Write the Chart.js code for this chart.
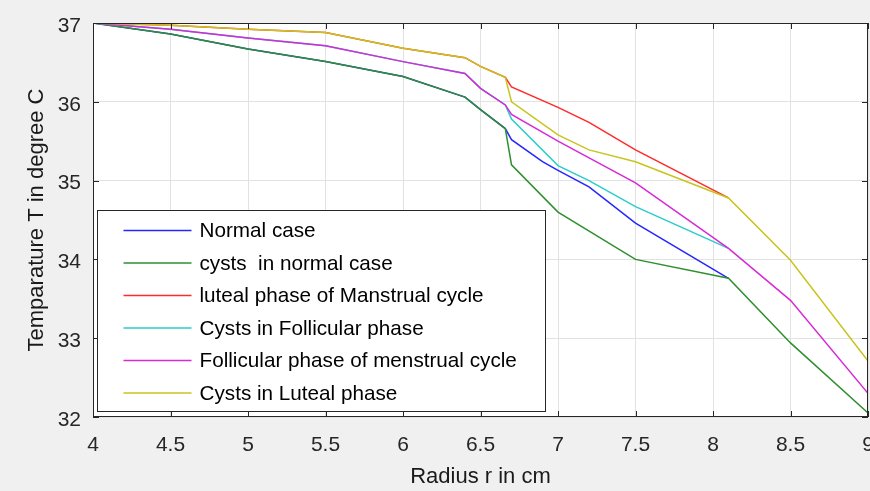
<!DOCTYPE html>
<html>
<head>
<meta charset="utf-8">
<script src="https://cdn.jsdelivr.net/npm/chart.js@4.4.1/dist/chart.umd.min.js"></script>
<style>
  html, body { margin: 0; padding: 0; background: #f0f0f0; }
  #wrap { width: 870px; height: 491px; }
</style>
</head>
<body>
<div id="wrap"><canvas id="grafico" width="870" height="491"></canvas></div>
<script>
// radio (cm) donde las curvas cambian de pendiente
const radius = [4, 4.5, 5, 5.5, 6, 6.4, 6.5, 6.66, 6.7, 6.9, 7, 7.2, 7.5, 8.1, 8.5, 9];

// temperaturas (°C), null = sin punto
const normalCase      = [37, 36.86, 36.67, 36.51, 36.32, 36.06, 35.9, 35.66, 35.52, 35.24, 35.13, 34.92, 34.46, 33.76, null, null];
const cystsNormal     = [37, 36.86, 36.67, 36.51, 36.32, 36.06, 35.9, 35.66, 35.2, null, 34.6, null, 34.0, 33.76, 32.94, 32.05];
const lutealPhase     = [37, 36.97, 36.92, 36.88, 36.68, 36.56, 36.45, 36.31, 36.19, null, 35.93, 35.74, 35.39, 34.78, null, null];
const cystsFollicular = [37, 36.92, 36.81, 36.71, 36.51, 36.36, 36.17, 35.96, 35.78, null, 35.19, 35.0, 34.67, 34.14, null, null];
const follicularPhase = [37, 36.92, 36.81, 36.71, 36.51, 36.36, 36.17, 35.96, 35.84, null, 35.5, null, 34.97, 34.14, 33.48, 32.3];
const cystsLuteal     = [37, 36.97, 36.92, 36.88, 36.68, 36.56, 36.45, 36.31, 36.0, null, 35.58, 35.39, 35.24, 34.78, 33.99, 32.71];

const seriesNames = [
    'Normal case',
    'cysts  in normal case',
    'luteal phase of Manstrual cycle',
    'Cysts in Follicular phase',
    'Follicular phase of menstrual cycle',
    'Cysts in Luteal phase'
];
const seriesValues = [normalCase, cystsNormal, lutealPhase, cystsFollicular, follicularPhase, cystsLuteal];
const seriesColors = ['#2626ff', '#2e8f2e', '#ff2a2a', '#2ccccc', '#d62ad6', '#c8c41e'];

const xTicks = [4, 4.5, 5, 5.5, 6, 6.5, 7, 7.5, 8, 8.5, 9];
const yTicks = [32, 33, 34, 35, 36, 37];

const FONT = '"Liberation Sans", Arial, sans-serif';

// fondo gris, area blanca, caja con marcas hacia adentro y leyenda (estilo MATLAB)
const marcoMatlab = {
    id: 'marcoMatlab',
    beforeDraw(chart) {
        const { ctx, chartArea: a } = chart;
        ctx.save();
        ctx.fillStyle = '#f0f0f0';
        ctx.fillRect(0, 0, chart.width, chart.height);
        ctx.fillStyle = '#ffffff';
        ctx.fillRect(a.left, a.top, a.right - a.left, a.bottom - a.top);
        ctx.restore();
    },
    afterDatasetsDraw(chart) {
        const { ctx, chartArea: a, scales } = chart;
        const tick = 6;
        ctx.save();
        ctx.strokeStyle = '#262626';
        ctx.lineWidth = 1;
        ctx.beginPath();
        xTicks.forEach(v => {
            const px = Math.round(scales.x.getPixelForValue(v)) + 0.5;
            ctx.moveTo(px, a.bottom); ctx.lineTo(px, a.bottom - tick);
            ctx.moveTo(px, a.top); ctx.lineTo(px, a.top + tick);
        });
        yTicks.forEach(v => {
            const py = Math.round(scales.y.getPixelForValue(v)) + 0.5;
            ctx.moveTo(a.left, py); ctx.lineTo(a.left + tick, py);
            ctx.moveTo(a.right, py); ctx.lineTo(a.right - tick, py);
        });
        ctx.stroke();
        ctx.strokeRect(Math.round(a.left) + 0.5, Math.round(a.top) + 0.5,
            Math.round(a.right - a.left) - 1, Math.round(a.bottom - a.top) - 1);

        // leyenda
        const lx = Math.round(a.left) + 4.5, lw = 448, lh = 201;
        const ly = Math.round(a.bottom) - 5.5 - lh;
        const row = 32.5;
        ctx.fillStyle = '#ffffff';
        ctx.fillRect(lx, ly, lw, lh);
        ctx.strokeStyle = '#262626';
        ctx.strokeRect(lx, ly, lw, lh);
        ctx.font = '20.7px ' + FONT;
        ctx.textBaseline = 'middle';
        ctx.textAlign = 'left';
        seriesNames.forEach((name, i) => {
            const cy = ly + 20 + i * row;
            ctx.strokeStyle = seriesColors[i];
            ctx.lineWidth = 1.5;
            ctx.beginPath();
            ctx.moveTo(lx + 26, cy); ctx.lineTo(lx + 94, cy);
            ctx.stroke();
            ctx.fillStyle = '#000000';
            ctx.fillText(name, lx + 102, cy + 1);
        });
        ctx.restore();
    }
};

new Chart(document.getElementById('grafico'), {
    type: 'line',
    data: {
        datasets: seriesNames.map((name, i) => ({
            label: name,
            data: radius.map((r, k) => ({ x: r, y: seriesValues[i][k] })).filter(p => p.y !== null),
            borderColor: seriesColors[i],
            backgroundColor: seriesColors[i],
            borderWidth: 1.5,
            pointRadius: 0,
            tension: 0,
            fill: false,
            order: seriesNames.length - i
        }))
    },
    options: {
        responsive: false,
        animation: false,
        layout: { padding: { top: 23, right: 2, left: 0, bottom: 0 } },
        plugins: { legend: { display: false }, tooltip: { enabled: false } },
        scales: {
            x: {
                type: 'linear', min: 4, max: 9,
                afterFit: s => { s.height = 74; s.paddingLeft = 0; s.paddingRight = 0; },
                afterBuildTicks: s => { s.ticks = xTicks.map(v => ({ value: v })); },
                ticks: {
                    color: '#262626', padding: 16, maxRotation: 0, autoSkip: false,
                    font: { family: FONT, size: 21 },
                    callback: v => String(+v.toFixed(1))
                },
                grid: { color: '#e2e2e2', drawTicks: false },
                border: { display: false },
                title: {
                    display: true, text: 'Radius r in cm', color: '#1a1a1a',
                    font: { family: FONT, size: 22 }, padding: { top: 0, bottom: 1 }
                }
            },
            y: {
                type: 'linear', min: 32, max: 37,
                afterFit: s => { s.width = 93; s.paddingTop = 0; s.paddingBottom = 0; },
                afterBuildTicks: s => { s.ticks = yTicks.map(v => ({ value: v })); },
                ticks: {
                    color: '#262626', padding: 12, labelOffset: 3,
                    font: { family: FONT, size: 21 },
                    callback: v => String(v)
                },
                grid: { color: '#e2e2e2', drawTicks: false },
                border: { display: false },
                title: {
                    display: true, text: 'Temparature T in degree C', color: '#1a1a1a',
                    font: { family: FONT, size: 22 }, padding: { top: 24, bottom: 0 }
                }
            }
        }
    },
    plugins: [marcoMatlab]
});
</script>
</body>
</html>
